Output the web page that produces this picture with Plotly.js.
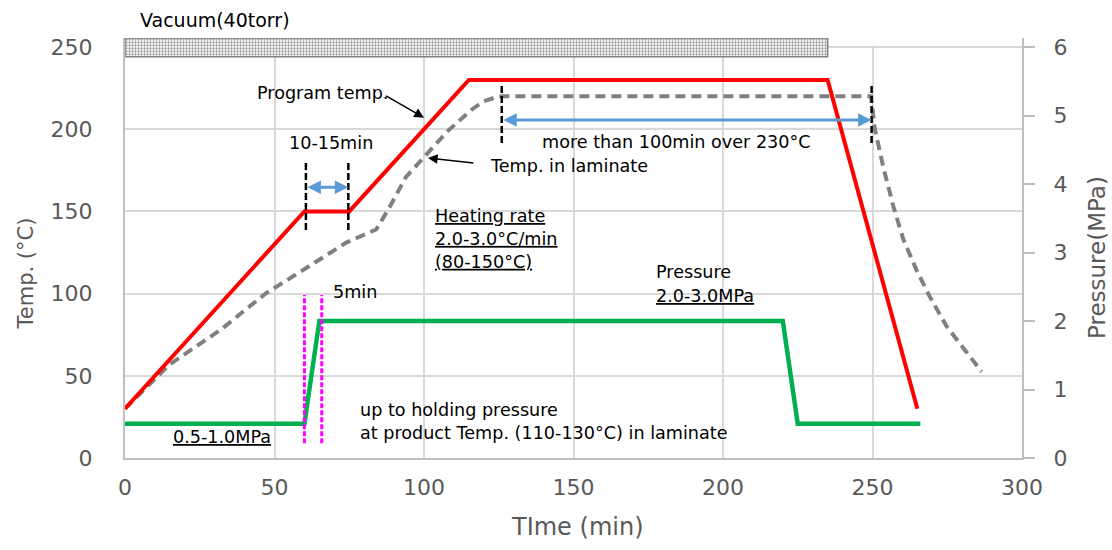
<!DOCTYPE html>
<html>
<head>
<meta charset="utf-8">
<script src="https://cdn.plot.ly/plotly-3.0.1.min.js"></script>
<style>html,body{margin:0;padding:0;background:#fff;}#chart{width:1112px;height:550px;}</style>
</head>
<body>
<div id="chart"></div>
<script>
// ---- data ----
const progTime = [0, 60, 75, 115, 235, 265];
const progTemp = [30, 150, 150, 230, 230, 30];

const lamTime = [0, 15, 32, 47, 61, 74, 84, 88, 94, 101, 108, 116, 120, 125, 249.5, 250.8, 253.6, 257, 260.3, 264.8, 269.2, 274.8, 281.5, 286.5];
const lamTemp = [30, 57, 78, 100, 116, 131, 139, 151, 171, 185, 199, 212, 217, 220, 220, 200, 177, 153, 133, 114, 98, 80, 64, 52.5];

const presTime = [0, 60, 65, 220, 225, 266];
const presMPa  = [0.5, 0.5, 2.0, 2.0, 0.5, 0.5];

const vacuumStart = 0, vacuumEnd = 235;

const holdMarks = [60.5, 74.7];      // 10-15min hold
const over230Marks = [126, 249.7];   // more than 100min over 230
const pressMarks = [60, 65.8];       // 5min

const xTicks = [0, 50, 100, 150, 200, 250, 300];
const yTicks = [0, 50, 100, 150, 200, 250];
const y2Ticks = [0, 1, 2, 3, 4, 5, 6];

// ---- layout helpers ----
const FONT = 'DejaVu Sans, sans-serif';
const plotTopPx = 38, axisTopPx = 47, plotBotPx = 458;
const plotH = plotBotPx - plotTopPx;
const yMax = 250 * plotH / (plotBotPx - axisTopPx);
const y2Max = 6 * plotH / (plotBotPx - axisTopPx);
const barLow = 244, barHigh = yMax;
const px2paperX = p => (p - 125) / 897;
const px2paperY = p => (plotBotPx - p) / plotH;
const AS = 17.6; // annotation font size

const traces = [
  {x: [vacuumStart, vacuumEnd, vacuumEnd, vacuumStart, vacuumStart],
   y: [barLow, barLow, barHigh, barHigh, barLow],
   mode: 'lines', fill: 'toself', line: {color: '#808080', width: 1.5},
   fillcolor: 'rgba(0,0,0,0)',
   fillpattern: {shape: '.', fgcolor: '#9a9a9a', bgcolor: '#ffffff', size: 3, solidity: 0.45},
   hoverinfo: 'skip', showlegend: false},
  {x: lamTime, y: lamTemp, mode: 'lines', line: {color: '#808080', width: 4, dash: '10px,6px'},
   hoverinfo: 'skip', showlegend: false},
  {x: progTime, y: progTemp, mode: 'lines', line: {color: '#ff0000', width: 4},
   hoverinfo: 'skip', showlegend: false},
  {x: presTime, y: presMPa, yaxis: 'y2', mode: 'lines', line: {color: '#00b050', width: 4.5},
   hoverinfo: 'skip', showlegend: false}
];

const vline = (x, y0, y1, color, dash, w) => ({type: 'line', xref: 'x', yref: 'y', x0: x, x1: x, y0: y0, y1: y1,
  line: {color: color, width: w, dash: dash}});

const shapes = [
  vline(holdMarks[0], 138.7, 180.2, '#000000', '7px,3px', 2.5),
  vline(holdMarks[1], 138.7, 180.2, '#000000', '7px,3px', 2.5),
  vline(over230Marks[0], 191.6, 228, '#000000', '7px,3px', 2.5),
  vline(over230Marks[1], 191.6, 228, '#000000', '7px,3px', 2.5),
  vline(pressMarks[0], 8.9, 99.1, '#ff00ff', '5px,2px', 3),
  vline(pressMarks[1], 8.9, 99.1, '#ff00ff', '5px,2px', 3),
  {type: 'rect', layer: 'above', xref: 'x', yref: 'paper', x0: 236, x1: 301,
   y0: px2paperY(45.5), y1: 1.0, fillcolor: '#ffffff', line: {width: 0}}
];

const F = (size, color, extra) => Object.assign({family: FONT, size: size, color: color || '#000000'}, extra || {});
const txt = (x, y, text, opt) => Object.assign({x: x, y: y, xref: 'x', yref: 'y', text: text, showarrow: false,
  font: F(AS)}, opt || {});
const arrow = (x, y, ax, ay, color, w, side, size) => ({x: x, y: y, ax: ax, ay: ay, xref: 'x', yref: 'y', axref: 'x', ayref: 'y',
  text: '', showarrow: true, arrowhead: 2, arrowsize: size, arrowwidth: w, arrowcolor: color,
  arrowside: side, standoff: 0, startstandoff: 0});

const annotations = [
  {xref: 'x', yref: 'paper', x: 4.3, y: px2paperY(20), text: 'Vacuum(40torr)', showarrow: false,
   xanchor: 'left', yanchor: 'middle', font: F(19)},
  txt(43.5, 222, 'Program temp.', {xanchor: 'left'}),
  arrow(100, 207, 86.8, 220.8, '#000000', 1.5, 'end', 1.3),
  txt(121.4, 177.6, 'Temp. in laminate', {xanchor: 'left'}),
  arrow(101.3, 182.5, 117, 179.4, '#000000', 1.5, 'end', 1.3),
  txt(68.9, 191.4, '10-15min'),
  arrow(holdMarks[1], 164.7, holdMarks[0], 164.7, '#5b9bd5', 3, 'end+start', 0.9),
  txt(184.6, 192.4, 'more than 100min over 230°C'),
  arrow(over230Marks[1], 205.6, over230Marks[0], 205.6, '#5b9bd5', 3, 'end+start', 0.9),
  txt(102.9, 133, 'Heating rate<br>2.0-3.0°C/min<br>(80-150°C)', {xanchor: 'left', align: 'left',
    font: F(AS, '#000000', {lineposition: 'under'})}),
  txt(77, 101.2, '5min'),
  txt(176.9, 113.2, 'Pressure', {xanchor: 'left'}),
  txt(176.9, 98.8, '2.0-3.0MPa', {xanchor: 'left', font: F(AS, '#000000', {lineposition: 'under'})}),
  txt(78, 22.1, 'up to holding pressure<br>at product Temp. (110-130°C) in laminate', {xanchor: 'left', align: 'left'}),
  txt(32.5, 13, '0.5-1.0MPa', {font: F(AS, '#000000', {lineposition: 'under'})}),
  // axis titles
  {xref: 'paper', yref: 'paper', x: px2paperX(25), y: px2paperY(273.5), text: 'Temp. (°C)', xanchor: 'center', yanchor: 'middle',
   textangle: -90, showarrow: false, font: F(21, '#595959')},
  {xref: 'paper', yref: 'paper', x: px2paperX(1097), y: px2paperY(258), text: 'Pressure(MPa)', xanchor: 'center', yanchor: 'middle',
   textangle: -90, showarrow: false, font: F(23, '#595959')},
  {xref: 'paper', yref: 'paper', x: px2paperX(577), y: px2paperY(527), text: 'TIme (min)', xanchor: 'center', yanchor: 'middle',
   showarrow: false, font: F(24, '#595959')}
];

const layout = {
  width: 1112, height: 550,
  margin: {l: 125, r: 90, t: plotTopPx, b: 550 - plotBotPx, pad: 0},
  paper_bgcolor: '#ffffff', plot_bgcolor: '#ffffff',
  showlegend: false,
  font: {family: FONT, color: '#595959'},
  xaxis: {range: [0, 300], tickvals: xTicks, ticktext: xTicks.map(String), showgrid: true, gridcolor: '#d9d9d9', gridwidth: 2,
    showline: true, linecolor: '#bfbfbf', linewidth: 2, ticks: '', zeroline: false,
    tickfont: F(22, '#595959'), ticklabelstandoff: 9},
  yaxis: {range: [0, yMax], tickvals: yTicks, ticktext: yTicks.map(String), showgrid: true, gridcolor: '#d9d9d9', gridwidth: 2,
    showline: true, linecolor: '#bfbfbf', linewidth: 2, ticks: '', zeroline: false,
    tickfont: F(22, '#595959'), ticklabelstandoff: 26},
  yaxis2: {range: [0, y2Max], tickvals: y2Ticks, ticktext: y2Ticks.map(String), overlaying: 'y', side: 'right',
    showgrid: false, zeroline: false, showline: true, linecolor: '#bfbfbf', linewidth: 2,
    ticks: 'outside', ticklen: 11, tickwidth: 2, tickcolor: '#bfbfbf',
    tickfont: F(22, '#595959'), ticklabelstandoff: 14},
  shapes: shapes,
  annotations: annotations
};

Plotly.newPlot('chart', traces, layout, {displayModeBar: false, staticPlot: true});
</script>
</body>
</html>
